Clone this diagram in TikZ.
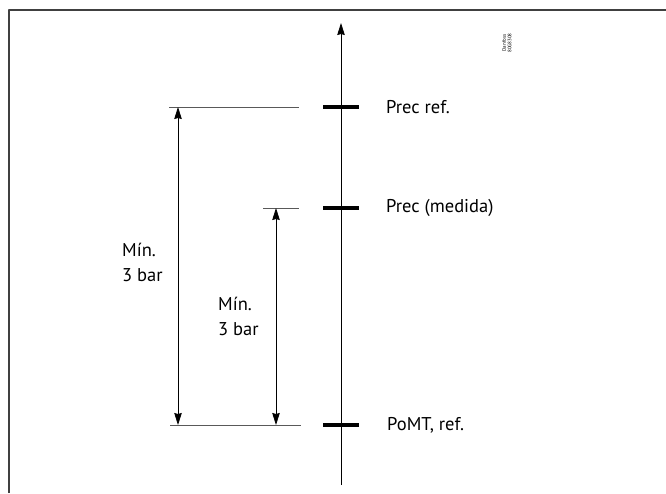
\documentclass[tikz,border=0pt]{standalone}
\usepackage{fontspec}
\setmainfont{PT Sans}
\usetikzlibrary{arrows.meta}
\begin{document}
\begin{tikzpicture}[x=1pt,y=-1pt,>={Stealth[length=12pt,width=7.5pt,inset=1pt]},line join=round]
				\tikzset{label style/.style={font=\fontsize{18.5}{24}\selectfont,anchor=west,inner sep=0pt},
					dim style/.style={font=\fontsize{18.5}{25}\selectfont,align=left,anchor=west,inner sep=0pt},
					tick style/.style={line width=4.5pt},
					ext style/.style={line width=0.7pt,gray!70!black}}
				%%Khung
				\useasboundingbox (0,0) rectangle (666,493);
				\def \xaxis{341}
				\def \yref{107}
				\def \ymed{208}
				\def \ypo{425}
				\draw[line width=1.6pt,black!75] (9,493)--(9,10)--(666,10);
				%%Trục
				\coordinate (bot) at (\xaxis,485);
				\coordinate (top) at (\xaxis,23);
				\draw[->,line width=0.8pt] (bot)--(top);
				%%Các vạch
				\foreach \y in {\yref,\ymed,\ypo}
					\draw[tick style] (\xaxis-18,\y)--(\xaxis+18,\y);
				\node[label style] (lref) at (386,\yref) {Prec ref.};
				\node[label style] (lmed) at (386,\ymed) {Prec (medida)};
				\node[label style] (lpo) at (387,\ypo) {PoMT, ref.};
				%%Đường gióng
				\coordinate (a1) at (169,\yref); \coordinate (a2) at (299,\yref);
				\coordinate (b1) at (263,\ymed); \coordinate (b2) at (299,\ymed);
				\coordinate (c1) at (170,\ypo); \coordinate (c2) at (301,\ypo);
				\draw[ext style] (a1)--(a2) (b1)--(b2) (c1)--(c2);
				%%Kích thước
				\coordinate (d1) at (178,\yref); \coordinate (d2) at (178,\ypo);
				\coordinate (e1) at (276,\ymed); \coordinate (e2) at (276,\ypo);
				\draw[<->,line width=0.8pt] (d1)--(d2);
				\draw[<->,line width=0.8pt] (e1)--(e2);
				\node[dim style] (m1) at (122,262) {Mín.\\3 bar};
				\node[dim style] (m2) at (218,316) {Mín.\\3 bar};
				\node[rotate=90,font=\fontsize{5}{5.5}\selectfont,align=center,inner sep=0pt] (df) at (507,43) {Danfoss\\80G8308};
		\end{tikzpicture}
\end{document}
